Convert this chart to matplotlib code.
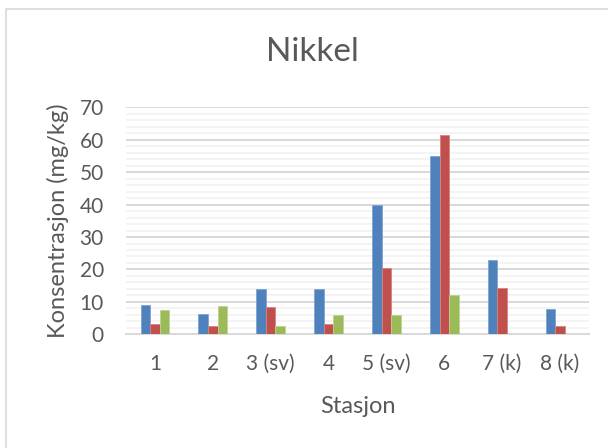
import numpy as np
import matplotlib
matplotlib.use("Agg")
import matplotlib.pyplot as plt
from matplotlib.patches import Rectangle

plt.rcParams['font.family'] = ['Lato', 'DejaVu Sans']

#%% Data

stations = ["1", "2", "3 (sv)", "4", "5 (sv)", "6", "7 (k)", "8 (k)"]
serie_blue = [9.0, 6.2, 14.0, 14.0, 40.0, 55.0, 23.0, 7.8]
serie_red = [3.3, 2.5, 8.5, 3.3, 20.3, 61.5, 14.3, 2.6]
serie_green = [7.5, 8.7, 2.5, 5.8, 5.9, 12.1, np.nan, np.nan]

#%% Plot

txt = "#595959"
fig = plt.figure(figsize=(6.08, 4.48), dpi=100)
ax = fig.add_axes([126/608, 1 - 334.3/448, (589 - 126)/608, (334.3 - 107.3)/448])

# chart frame (runs off the right and bottom edge)
fig.patches.append(Rectangle((5.5/608, -0.1), 1.2, 1 - 9.5/448 + 0.1,
                             transform=fig.transFigure, fill=False,
                             edgecolor="#d9d9d9", linewidth=1.2))

x = np.arange(len(stations))
w = 0.166
for off, vals, col, ec in [(-w, serie_blue, "#4f81bd", "#7ea3d3"),
                           (0, serie_red, "#c0504d", "#d8827f"),
                           (w, serie_green, "#9bbb59", "#bcd38f")]:
    ax.bar(x + off, vals, width=w, color=col, edgecolor=ec, linewidth=0.6, zorder=3)

ax.set_xlim(-0.5, len(stations) - 0.5)
ax.set_ylim(0, 70)
ax.set_yticks(np.arange(0, 71, 10))
ax.set_yticks(np.arange(0, 71, 2), minor=True)
ax.grid(axis="y", which="major", color="#d9d9d9", linewidth=1.4, zorder=1)
ax.grid(axis="y", which="minor", color="#f2f2f2", linewidth=1.2, zorder=0)
ax.tick_params(axis="y", which="both", length=0, pad=16, labelsize=15, labelcolor=txt)
ax.tick_params(axis="x", length=0, pad=14, labelsize=15, labelcolor=txt)
ax.set_xticks(x)
ax.set_xticklabels(stations)

for s in ["top", "right", "left"]:
    ax.spines[s].set_visible(False)
ax.spines["bottom"].set_color("#d9d9d9")
ax.spines["bottom"].set_linewidth(1.4)

ax.set_xlabel("Stasjon", fontsize=17, color=txt, va="center")
ax.xaxis.set_label_coords(0.5, (334.3 - 406) / 227)
ax.set_ylabel("Konsentrasjon (mg/kg)", fontsize=17, color=txt, va="center")
ax.yaxis.set_label_coords((58 - 126) / 463, 0.5)
fig.text(312/608, 1 - 52/448, "Nikkel", fontsize=24, color=txt, ha="center", va="center")

fig.savefig("out.png", dpi=100)
